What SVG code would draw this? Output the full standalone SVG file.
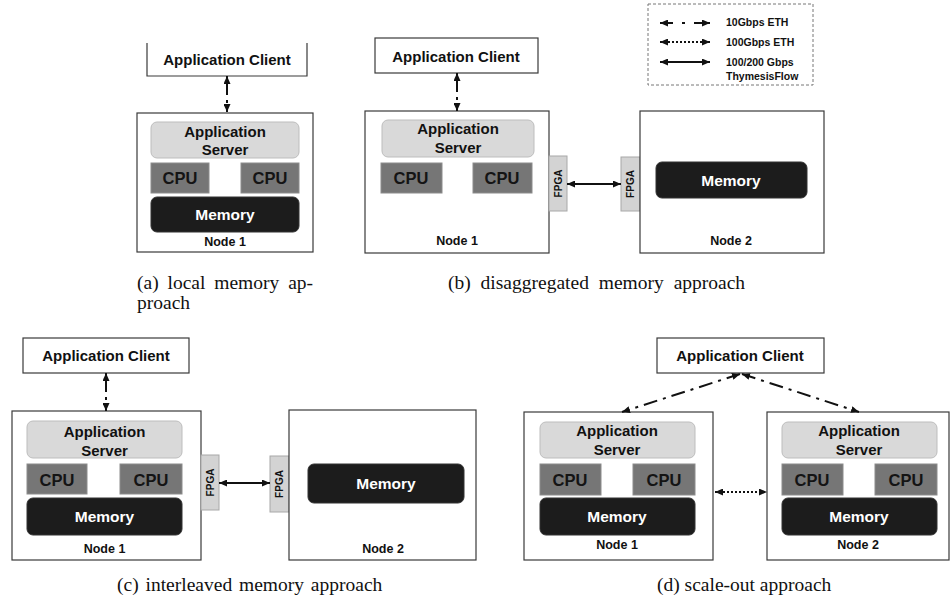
<svg xmlns="http://www.w3.org/2000/svg" width="950" height="601" viewBox="0 0 950 601">
<style>
.box{fill:#fff;stroke:#3a3a3a;stroke-width:1.2}
.srv{fill:#d9d9d9;stroke:#bdbdbd;stroke-width:1}
.cpu{fill:#767676;stroke:#8c8c8c;stroke-width:1}
.mem{fill:#1c1c1c;stroke:#333;stroke-width:1}
.fpga{fill:#d3d3d3;stroke:#a8a8a8;stroke-width:1}
.t{font-family:"Liberation Sans",Arial,sans-serif;font-weight:bold;text-anchor:middle;fill:#111}
.c15{font-size:15px}
.cpuT{font-size:16.5px;fill:#141414}
.memT{font-size:15.5px;fill:#fff}
.node{font-size:12.5px}
.fpT{font-size:10px}
.lg{font-family:"Liberation Sans",Arial,sans-serif;font-weight:bold;font-size:10.5px;fill:#111}
.cap{font-family:"Liberation Serif","Times New Roman",serif;font-size:19.5px;fill:#111}
.ar{fill:none;stroke:#111;stroke-width:2;marker-start:url(#ah);marker-end:url(#ah)}
.dd{stroke-dasharray:19 5 3 3 30}
.dg{stroke-dasharray:14 6 3 6}
.dt{stroke-dasharray:2 2}
</style>
<defs>
<marker id="ah" markerUnits="userSpaceOnUse" markerWidth="8" markerHeight="7" refX="8" refY="3.5" orient="auto-start-reverse">
<path d="M0,0 L8,3.5 L0,7 z" fill="#111"/>
</marker>
</defs>

<!-- (a) -->
<g id="a-client">
<path d="M147,43 V76 H307 V43" class="box"/>
<text class="t c15" x="227" y="65">Application  Client</text>
</g>
<g id="a-node1">
<rect class="box" x="137" y="113" width="176" height="139"/>
<rect class="srv" x="151" y="122" width="148" height="36" rx="6"/>
<text class="t c15" x="225" y="137">Application</text>
<text class="t c15" x="225" y="155">Server</text>
<rect class="cpu" x="151" y="163" width="58" height="30"/>
<text class="t cpuT" x="180" y="184">CPU</text>
<rect class="cpu" x="241" y="163" width="58" height="30"/>
<text class="t cpuT" x="270" y="184">CPU</text>
<rect class="mem" x="151" y="197" width="148" height="35" rx="6"/>
<text class="t memT" x="225" y="220">Memory</text>
<text class="t node" x="225" y="246">Node 1</text>
</g>

<!-- (b) -->
<g id="b-client">
<rect class="box" x="375" y="38" width="163" height="35"/>
<text class="t c15" x="456" y="62">Application  Client</text>
</g>
<g id="b-node1">
<rect class="box" x="365" y="111" width="184" height="142"/>
<rect class="srv" x="382" y="120" width="152" height="37" rx="6"/>
<text class="t c15" x="458" y="134">Application</text>
<text class="t c15" x="458" y="153">Server</text>
<rect class="cpu" x="381" y="163" width="61" height="30"/>
<text class="t cpuT" x="411" y="184">CPU</text>
<rect class="cpu" x="473" y="163" width="59" height="30"/>
<text class="t cpuT" x="502" y="184">CPU</text>
<text class="t node" x="457" y="245">Node 1</text>
</g>
<g id="b-fpga1">
<rect class="fpga" x="549" y="156" width="18" height="55"/>
<text class="t fpT" x="558" y="183.5" dy="0.35em" transform="rotate(-90 558 183.5)">FPGA</text>
</g>
<g id="b-fpga2">
<rect class="fpga" x="621" y="157" width="19" height="54"/>
<text class="t fpT" x="630.5" y="184" dy="0.35em" transform="rotate(-90 630.5 184)">FPGA</text>
</g>
<g id="b-node2">
<rect class="box" x="640" y="111" width="184" height="142"/>
<rect class="mem" x="656" y="162" width="151" height="36" rx="6"/>
<text class="t memT" x="731" y="186">Memory</text>
<text class="t node" x="731" y="245">Node 2</text>
</g>

<!-- legend -->
<g id="legend">
<rect x="648" y="4" width="165" height="81" fill="#fff" stroke="#777" stroke-width="1" stroke-dasharray="3 2"/>
<path class="ar" d="M660,23 L710,23" style="stroke-dasharray:13 9 3 9 30"/>
<path class="ar dt" d="M660,42 L710,42"/>
<path class="ar" d="M660,62 L710,62"/>
<text class="lg" x="726" y="26">10Gbps ETH</text>
<text class="lg" x="726" y="46">100Gbps ETH</text>
<text class="lg" x="726" y="66">100/200 Gbps</text>
<text class="lg" x="726" y="80">ThymesisFlow</text>
</g>

<!-- (c) -->
<g id="c-client">
<rect class="box" x="23" y="338" width="166" height="35"/>
<text class="t c15" x="106" y="361">Application  Client</text>
</g>
<g id="c-node1">
<rect class="box" x="12" y="411" width="189" height="149"/>
<rect class="srv" x="27" y="421" width="155" height="37" rx="6"/>
<text class="t c15" x="104.5" y="437">Application</text>
<text class="t c15" x="104.5" y="456">Server</text>
<rect class="cpu" x="27" y="464" width="60" height="30"/>
<text class="t cpuT" x="57" y="486">CPU</text>
<rect class="cpu" x="120" y="464" width="62" height="30"/>
<text class="t cpuT" x="151" y="486">CPU</text>
<rect class="mem" x="27" y="498" width="155" height="37" rx="6"/>
<text class="t memT" x="104.5" y="522">Memory</text>
<text class="t node" x="104.5" y="553">Node 1</text>
</g>
<g id="c-fpga1">
<rect class="fpga" x="201" y="455" width="18" height="55"/>
<text class="t fpT" x="210" y="482.5" dy="0.35em" transform="rotate(-90 210 482.5)">FPGA</text>
</g>
<g id="c-fpga2">
<rect class="fpga" x="270" y="456" width="19" height="56"/>
<text class="t fpT" x="279.5" y="484" dy="0.35em" transform="rotate(-90 279.5 484)">FPGA</text>
</g>
<g id="c-node2">
<rect class="box" x="289" y="410" width="187" height="150"/>
<rect class="mem" x="308" y="464" width="156" height="39" rx="6"/>
<text class="t memT" x="386" y="489">Memory</text>
<text class="t node" x="383" y="553">Node 2</text>
</g>

<!-- (d) -->
<g id="d-client">
<rect class="box" x="657" y="338" width="167" height="35"/>
<text class="t c15" x="740" y="361">Application  Client</text>
</g>
<g id="d-node1">
<rect class="box" x="524" y="412" width="189" height="148"/>
<rect class="srv" x="540" y="422" width="155" height="36" rx="6"/>
<text class="t c15" x="617" y="436">Application</text>
<text class="t c15" x="617" y="455">Server</text>
<rect class="cpu" x="540" y="464" width="61" height="31"/>
<text class="t cpuT" x="570" y="486">CPU</text>
<rect class="cpu" x="633" y="464" width="62" height="31"/>
<text class="t cpuT" x="664" y="486">CPU</text>
<rect class="mem" x="540" y="498" width="155" height="37" rx="6"/>
<text class="t memT" x="617" y="522">Memory</text>
<text class="t node" x="617" y="549">Node 1</text>
</g>
<g id="d-node2">
<rect class="box" x="767" y="412" width="182" height="148"/>
<rect class="srv" x="782" y="422" width="155" height="36" rx="6"/>
<text class="t c15" x="859" y="436">Application</text>
<text class="t c15" x="859" y="455">Server</text>
<rect class="cpu" x="782" y="464" width="61" height="31"/>
<text class="t cpuT" x="812" y="486">CPU</text>
<rect class="cpu" x="875" y="464" width="62" height="31"/>
<text class="t cpuT" x="906" y="486">CPU</text>
<rect class="mem" x="782" y="498" width="155" height="37" rx="6"/>
<text class="t memT" x="859" y="522">Memory</text>
<text class="t node" x="858" y="549">Node 2</text>
</g>

<!-- connectors -->
<g id="connectors">
<path class="ar dd" d="M227,76 L227,112"/>
<path class="ar dd" d="M457,73 L457,111"/>
<path class="ar" d="M567,184 L621,184"/>
<path class="ar dd" d="M106,373 L106,411"/>
<path class="ar" d="M219,483 L270,483"/>
<path class="ar dg" d="M740,374 L622,412"/>
<path class="ar dg" d="M742,374 L859,412"/>
<path class="ar dt" d="M715,492 L767,492"/>
</g>

<!-- captions -->
<g id="captions">
<text class="cap" x="137" y="289" word-spacing="4">(a) local memory ap-</text>
<text class="cap" x="137" y="309">proach</text>
<text class="cap" x="448" y="289" word-spacing="5">(b) disaggregated memory approach</text>
<text class="cap" x="117" y="591" word-spacing="2">(c) interleaved memory approach</text>
<text class="cap" x="657" y="591">(d) scale-out approach</text>
</g>
</svg>
